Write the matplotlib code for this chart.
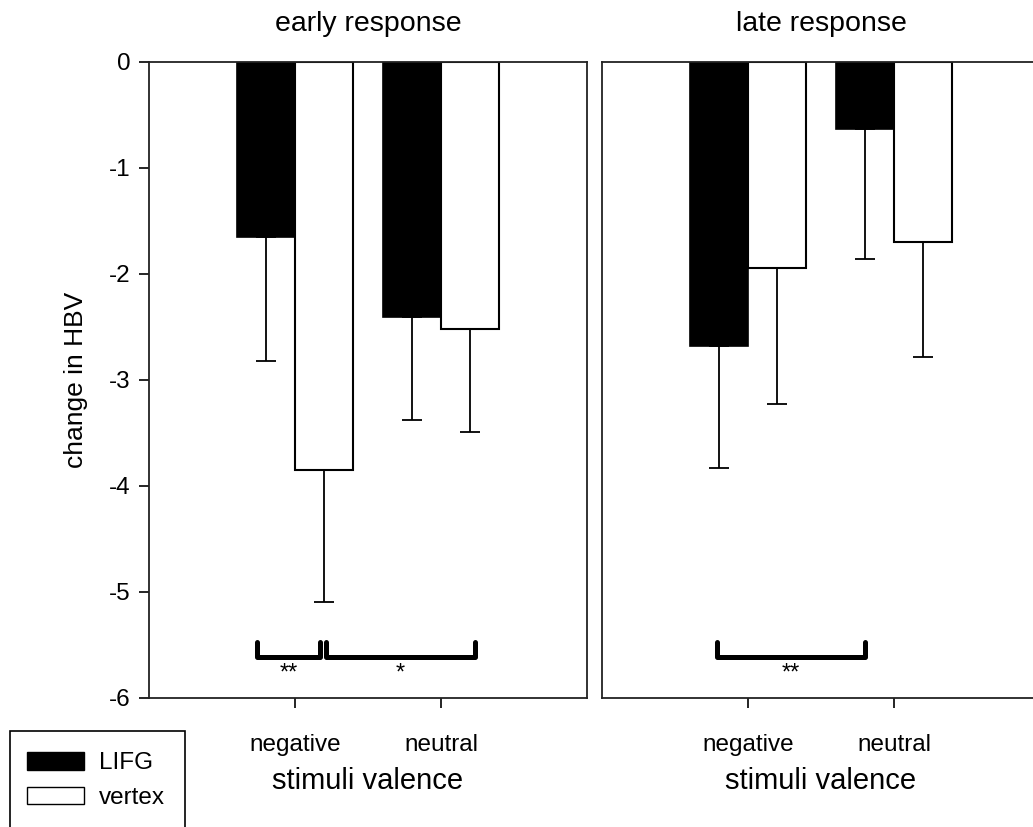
import matplotlib
matplotlib.use("Agg")
import matplotlib.pyplot as plt
from matplotlib.patches import Patch, Rectangle
import numpy as np

plt.rcParams["font.family"] = ["Liberation Sans", "DejaVu Sans"]
plt.rcParams["axes.unicode_minus"] = False

categories = ["negative", "neutral"]
groups = ["LIFG", "vertex"]

early_lifg = [-1.65, -2.41]
early_lifg_err = [1.17, 0.97]
early_vertex = [-3.85, -2.52]
early_vertex_err = [1.24, 0.97]

late_lifg = [-2.68, -0.63]
late_lifg_err = [1.15, 1.23]
late_vertex = [-1.94, -1.70]
late_vertex_err = [1.29, 1.08]

# significance brackets: (x start, x end, label)
early_brackets = [(0.74, 1.17, "**"), (1.21, 2.23, "*")]
late_brackets = [(0.79, 1.80, "**")]

fig = plt.figure(figsize=(10.33, 8.27), dpi=100)
ax1 = fig.add_axes([149 / 1033, 1 - 698 / 827, 438 / 1033, 636 / 827])
ax2 = fig.add_axes([602 / 1033, 1 - 698 / 827, 438 / 1033, 636 / 827])

x = np.arange(1, len(categories) + 1)
w = 0.4


def draw(ax, lifg, lifg_err, vertex, vertex_err, title, brackets):
    ax.bar(x - w / 2, lifg, w, color="black", edgecolor="black", linewidth=1.2)
    ax.bar(x + w / 2, vertex, w, color="white", edgecolor="black", linewidth=1.5)
    ax.errorbar(x - w / 2, lifg, yerr=[lifg_err, [0] * len(lifg)], fmt="none",
                ecolor="black", elinewidth=1.3, capsize=7, capthick=1.3)
    ax.errorbar(x + w / 2, vertex, yerr=[vertex_err, [0] * len(vertex)], fmt="none",
                ecolor="black", elinewidth=1.3, capsize=7, capthick=1.3)
    for x0, x1, lab in brackets:
        ax.plot([x0, x0, x1, x1], [-5.47, -5.61, -5.61, -5.47], color="black", lw=3.6,
                solid_capstyle="round", solid_joinstyle="round")
        ax.text((x0 + x1) / 2, -5.77, lab, ha="center", va="center", fontsize=17)
    ax.set_xlim(0, 3)
    ax.set_ylim(-6, 0)
    ax.set_xticks(x)
    ax.set_xticklabels(categories, fontsize=17.5)
    for t in ax.get_xticklabels():
        t.set_verticalalignment("baseline")
    ax.set_xlabel("stimuli valence", fontsize=21, labelpad=8)
    ax.set_title(title, fontsize=20.5, pad=22)
    ax.tick_params(axis="x", direction="out", length=7, width=1.2, pad=31)
    for s in ax.spines.values():
        s.set_linewidth(1.3)
        s.set_color("#222222")


draw(ax1, early_lifg, early_lifg_err, early_vertex, early_vertex_err, "early response", early_brackets)
draw(ax2, late_lifg, late_lifg_err, late_vertex, late_vertex_err, "late response", late_brackets)

ax1.set_yticks(np.arange(-6, 1, 1))
ax1.tick_params(axis="y", direction="out", length=7, width=1.2, labelsize=17.5, pad=6)
ax1.set_ylabel("change in HBV", fontsize=19, labelpad=15)
ax2.set_yticks([])

# legend box, cut off at the bottom edge
fig.add_artist(Rectangle((10 / 1033, -0.05), 175 / 1033, 0.05 + 96 / 827, transform=fig.transFigure,
                         fill=False, edgecolor="black", linewidth=1.2))
handles = [Patch(facecolor="black", edgecolor="black", label="LIFG"),
           Patch(facecolor="white", edgecolor="black", label="vertex")]
fig.legend(handles=handles, loc="upper left", bbox_to_anchor=(27 / 1033, 1 - 752 / 827),
           frameon=False, fontsize=17.5, handlelength=2.35, handleheight=0.75,
           handletextpad=0.6, labelspacing=0.5, borderpad=0, borderaxespad=0)

fig.savefig("out.png", dpi=100)
